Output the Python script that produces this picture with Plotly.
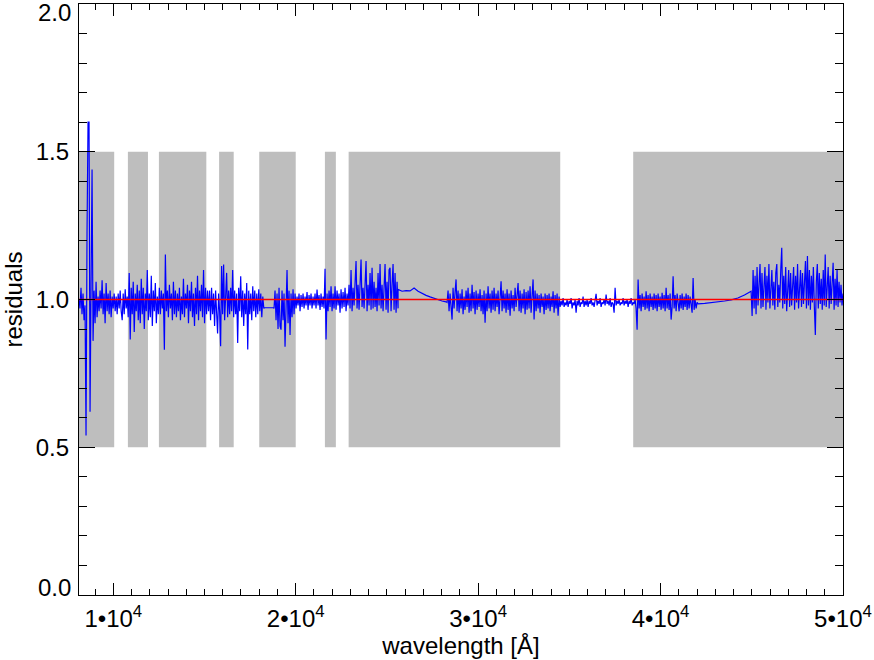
"""Fit residuals vs wavelength, IDL-style plot: shaded fit windows, residual
spectrum in blue, unity reference in red."""
import numpy as np
import plotly.graph_objects as go

_FONT = dict(family="Liberation Sans, Arial, Helvetica, sans-serif", color="#000000", size=24)

# shaded wavelength windows [Å]
WIN_START = [8120, 10800, 12500, 15800, 18000, 21600, 22900, 38500]
WIN_END = [10050, 11900, 15100, 16600, 20000, 22200, 34500, 50000]
WIN_LOW = 0.5
WIN_HIGH = 1.5

REF_LEVEL = 1.0
X_RANGE = [8120, 50000]
X_TICKS = [10000, 20000, 30000, 40000, 50000]
X_TICKTEXT = ["1•10<sup>4</sup>", "2•10<sup>4</sup>", "3•10<sup>4</sup>",
              "4•10<sup>4</sup>", "5•10<sup>4</sup>"]
Y_RANGE = [0, 2]
Y_TICKS = [0.0, 0.5, 1.0, 1.5, 2.0]

# residual spectrum, sampled per wavelength segment [Å]
SEG_START = [8120, 18290, 18811, 25610, 28296, 42057, 45018]
SEG_END = [18250, 18784, 25610, 28242, 42003, 44963, 50000]

RESID_1 = [
    1.00, 0.97, 1.04, 0.95, 1.02, 0.93, 0.98, 0.54, 1.23, 1.60,
    1.60, 0.62, 1.05, 1.44, 0.86, 1.03, 0.92, 1.06, 0.94, 1.01,
    0.96, 1.03, 0.97, 1.065, 0.95, 1.02, 0.92, 1.056, 0.96, 1.02,
    0.95, 1.03, 0.94, 1.01, 0.97, 1.02, 0.96, 1.01, 0.95, 1.02,
    0.97, 1.03, 0.96, 0.93, 1.02, 0.95, 1.035, 0.97, 1.01, 0.94,
    1.09, 0.865, 1.04, 0.95, 1.06, 0.89, 1.02, 0.96, 1.05, 0.93,
    1.03, 0.92, 1.07, 0.95, 1.04, 0.90, 1.02, 0.96, 1.10, 0.93,
    1.02, 0.94, 1.08, 0.91, 1.03, 0.96, 1.056, 0.92, 1.01, 0.95,
    1.04, 0.95, 1.03, 0.97, 1.02, 0.83, 1.152, 0.96, 1.03, 0.94,
    1.05, 0.97, 1.02, 0.93, 1.06, 0.95, 1.03, 0.94, 1.02, 0.96,
    1.04, 0.93, 1.01, 0.95, 1.07, 0.94, 1.02, 0.97, 1.05, 0.92,
    1.03, 0.96, 1.06, 0.94, 1.02, 0.91, 1.04, 0.95, 1.08, 0.93,
    1.03, 0.96, 1.05, 0.94, 1.10, 0.92, 1.04, 0.95, 1.03, 0.96,
    1.03, 0.93, 1.04, 0.95, 1.02, 0.91, 1.03, 0.94, 0.885, 1.02,
    0.96, 0.842, 1.113, 0.95, 1.118, 0.93, 1.04, 1.09, 0.94, 1.03,
    0.95, 1.04, 0.96, 1.10, 0.94, 1.03, 0.95, 1.02, 0.853, 1.04,
    0.96, 1.079, 0.94, 1.03, 0.91, 1.02, 0.95, 1.056, 0.831, 1.03,
    0.95, 1.02, 0.93, 1.045, 0.96, 1.03, 0.94, 1.02, 0.95, 1.035,
    0.96, 1.02, 0.94, 1.01, 0.97,
]
RESID_2 = [0.972, 0.972]
RESID_3 = [
    0.97, 1.03, 0.93, 1.02, 0.90, 1.04, 0.91, 0.898, 1.03, 0.93,
    1.02, 0.84, 1.045, 1.10, 0.92, 1.03, 0.88, 1.02, 0.94, 1.035,
    0.95, 1.02, 0.97, 1.01, 0.98, 1.02, 0.96, 1.015, 0.975, 1.02,
    0.97, 1.01, 0.98, 1.025, 0.965, 1.015, 0.98, 1.02, 0.97, 1.01,
    0.98, 1.02, 0.97, 1.034, 0.98, 1.015, 0.965, 1.02, 0.975, 1.01,
    0.97, 1.104, 0.865, 1.02, 0.96, 1.03, 0.975, 1.045, 0.96, 1.02,
    0.97, 1.045, 0.965, 1.03, 0.98, 1.02, 0.955, 1.035, 0.97, 1.025,
    0.975, 1.04, 0.96, 1.02, 0.98, 1.05, 0.97, 1.10, 0.96, 1.04,
    0.98, 1.06, 1.13, 0.97, 1.05, 0.965, 1.08, 1.135, 0.975, 1.04,
    0.97, 1.07, 1.13, 0.96, 1.05, 0.98, 1.09, 0.965, 1.107, 0.97,
    1.06, 0.975, 1.04, 0.96, 1.09, 0.98, 1.12, 0.97, 1.05, 0.96,
    1.08, 1.12, 0.965, 1.06, 0.955, 1.10, 1.107, 0.96, 1.05, 1.12,
    0.965, 1.09, 0.955, 1.06, 0.97,
]
RESID_4 = [1.034, 1.028, 1.030, 1.029, 1.039, 1.028, 1.020, 1.014, 1.009,
           1.004, 0.998, 0.995, 0.992]
RESID_5 = [
    0.99, 1.03, 0.96, 1.02, 0.95, 0.932, 1.04, 0.97, 1.025, 1.068,
    0.96, 1.03, 0.955, 1.02, 0.97, 1.035, 0.95, 1.01, 0.965, 1.03,
    0.975, 1.04, 0.955, 1.02, 0.96, 1.05, 0.97, 1.025, 0.95, 1.03,
    0.965, 1.02, 0.975, 1.035, 0.96, 1.015, 0.95, 1.03, 0.921, 1.02,
    0.96, 1.045, 0.97, 1.02, 0.955, 1.03, 0.965, 1.04, 0.96, 1.02,
    0.975, 1.03, 0.95, 1.01, 1.062, 0.96, 1.03, 0.97, 1.02, 0.955,
    1.035, 0.965, 1.02, 0.945, 1.03, 0.97, 1.015, 0.96, 1.04, 0.975,
    1.02, 1.056, 0.96, 1.03, 0.955, 1.02, 0.97, 1.035, 0.95, 1.025,
    0.965, 1.03, 0.97, 1.045, 0.955, 1.02, 1.068, 0.932, 1.03, 0.96,
    1.02, 0.97, 1.015, 0.955, 1.02, 0.975, 1.01, 0.95, 1.02, 0.965,
    1.015, 0.97, 1.02, 0.96, 1.01, 0.975, 1.028, 0.955, 1.015, 0.97,
    1.02, 0.945, 1.01, 0.975, 0.995, 0.98, 1.005, 0.975, 0.99, 0.98,
    1.0, 0.975, 0.995, 0.985, 1.005, 0.97, 0.99, 0.98, 1.0, 0.955,
    0.995, 0.98, 1.005, 0.975, 0.99, 0.985, 1.01, 0.975, 0.995, 0.98,
    1.0, 0.975, 0.995, 0.985, 1.005, 0.98, 0.99, 0.975, 1.0, 1.019,
    0.98, 0.995, 0.985, 1.005, 0.975, 0.99, 0.985, 1.0, 0.98, 1.017,
    0.985, 0.995, 0.98, 1.005, 0.975, 0.99, 0.985, 0.955, 1.04, 0.98,
    0.995, 0.985, 1.0, 0.98, 0.99, 0.985, 1.005, 0.98, 0.995, 0.985,
    1.0, 0.975, 0.995, 0.985, 1.005, 0.98, 0.99, 0.985, 1.0, 0.97,
    0.898, 1.068, 0.97, 1.015, 0.96, 1.02, 0.975, 1.01, 0.965, 1.028,
    0.97, 1.015, 0.96, 1.02, 0.975, 1.01, 0.965, 1.02, 0.97, 1.015,
    0.96, 1.02, 0.975, 1.01, 0.965, 1.023, 0.97, 1.015, 0.96, 1.04,
    0.97, 1.015, 0.965, 1.02, 0.932, 0.975, 1.079, 0.97, 1.015, 0.96,
    1.02, 0.975, 0.96, 1.015, 0.97, 1.02, 0.965, 1.01, 0.975, 1.02,
    0.965, 1.015, 0.97, 1.01, 0.975, 0.955, 1.073, 0.965, 1.0, 0.97,
    0.99,
]
RESID_6 = [0.985, 0.987, 0.989, 0.992, 0.995, 0.999, 1.005, 1.015, 1.028]
RESID_7 = [
    0.944, 1.10, 0.97, 1.08, 0.95, 1.11, 0.98, 1.06, 1.12, 0.97,
    1.09, 0.975, 1.05, 1.11, 0.965, 1.08, 0.99, 1.12, 0.97, 1.07,
    1.10, 0.98, 1.06, 0.965, 1.09, 1.12, 0.975, 1.05, 0.99, 1.10,
    1.175, 0.97, 1.08, 0.985, 1.11, 0.96, 1.07, 1.10, 0.975, 1.09,
    0.98, 1.06, 1.11, 0.965, 1.08, 0.99, 1.12, 0.97, 1.05, 1.10,
    0.975, 1.09, 0.985, 1.07, 1.13, 0.97, 1.147, 0.98, 1.10, 0.965,
    1.08, 0.99, 1.11, 0.975, 0.88, 1.06, 1.12, 0.97, 1.09, 0.985,
    1.07, 0.965, 1.10, 0.98, 1.152, 0.975, 1.06, 1.11, 0.97, 1.08,
    0.985, 1.09, 1.124, 0.965, 1.07, 0.98, 1.10, 0.975, 1.06, 0.99,
    1.05, 0.98, 1.02,
]
RESIDS = [RESID_1, RESID_2, RESID_3, RESID_4, RESID_5, RESID_6, RESID_7]

wave = np.concatenate([np.linspace(a, b, len(r)) for a, b, r in zip(SEG_START, SEG_END, RESIDS)])
resid = np.concatenate([np.asarray(r, dtype=float) for r in RESIDS])

fig = go.Figure()
for x0, x1 in zip(WIN_START, WIN_END):
    fig.add_shape(type="rect", xref="x", yref="y", x0=x0, x1=x1, y0=WIN_LOW, y1=WIN_HIGH,
                  fillcolor="#bebebe", line_width=0, layer="below")

fig.add_scatter(x=wave, y=resid, mode="lines", line=dict(color="#0000ff", width=1.2),
                showlegend=False, hoverinfo="skip")
fig.add_scatter(x=X_RANGE, y=[REF_LEVEL, REF_LEVEL], mode="lines",
                line=dict(color="#ff0000", width=1.4), showlegend=False, hoverinfo="skip")

# IDL keeps the end labels inside the axis span; middle ones come from the axis
y_text = [f"{v:.1f}" for v in Y_TICKS]
y_inner = [t if 0 < i < len(Y_TICKS) - 1 else "" for i, t in enumerate(y_text)]
for v, t, shift in [(Y_TICKS[0], y_text[0], 8), (Y_TICKS[-1], y_text[-1], -8)]:
    fig.add_annotation(x=0, xref="paper", y=v, yref="y", text=t, showarrow=False,
                       xanchor="right", yanchor="middle", xshift=-6, yshift=shift, font=_FONT)

_axis = dict(showline=True, linecolor="#000000", linewidth=1.2, mirror="ticks",
             ticks="inside", tickcolor="#000000", tickwidth=1.2, automargin=False,
             showgrid=False, zeroline=False, tickfont=_FONT)
fig.update_xaxes(
    _axis, range=X_RANGE, tickvals=X_TICKS, ticktext=X_TICKTEXT, ticklen=12,
    ticklabelstandoff=2,
    minor=dict(dtick=1000, ticklen=6, ticks="inside", tickcolor="#000000", tickwidth=1.2, showgrid=False),
    title=dict(text="wavelength [Å]", font=_FONT, standoff=6),
)
fig.update_yaxes(
    _axis, range=Y_RANGE, tickvals=Y_TICKS, ticktext=y_inner, ticklen=16,
    ticklabelstandoff=4,
    minor=dict(dtick=0.1, ticklen=8, ticks="inside", tickcolor="#000000", tickwidth=1.2, showgrid=False),
    title=dict(text="residuals", font=_FONT, standoff=6),
)
fig.update_layout(
    width=874, height=660, margin=dict(l=79, r=31, t=4, b=65),
    paper_bgcolor="#ffffff", plot_bgcolor="#ffffff", font=_FONT,
)
fig.write_html("out.html", config={"displayModeBar": False},
               post_script="document.body.style.margin = '0';")
